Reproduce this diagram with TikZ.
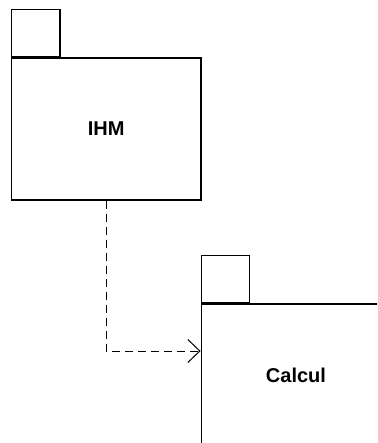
\documentclass[tikz,border=0pt]{standalone}
\usepackage{fontspec}
\setmainfont{Liberation Sans}
\usetikzlibrary{arrows.meta,positioning}
\tikzset{
  pkg/.style={draw=black, line width=1.4pt, fill=white, minimum width=189.5pt, minimum height=142pt, inner sep=0pt, font=\fontsize{20}{24}\selectfont\bfseries},
  pkgtab/.style={draw=black, line width=1.4pt, fill=white, minimum width=48.5pt, minimum height=47pt, inner sep=0pt, anchor=south west},
  dep/.style={-{Straight Barb[length=12pt, width=23pt, line width=1pt]}, line width=1pt, dash pattern=on 8pt off 5pt, draw=black}
}
\begin{document}
\begin{tikzpicture}[x=1pt, y=-1pt]
  \useasboundingbox (0,0) rectangle (377,443);
  \clip (0,0) rectangle (377,443);
  \node[pkg] (ihm) at (106.25,129) {IHM};
  \node[pkgtab] (ihmtab) at (ihm.north west) {};
  \node[pkg] (calcul) at (296,375) {Calcul};
  \node[pkgtab] (calcultab) at (calcul.north west) {};
  \draw[dep] (ihm.south) |- ([yshift=24pt]calcul.west);
\end{tikzpicture}
\end{document}
